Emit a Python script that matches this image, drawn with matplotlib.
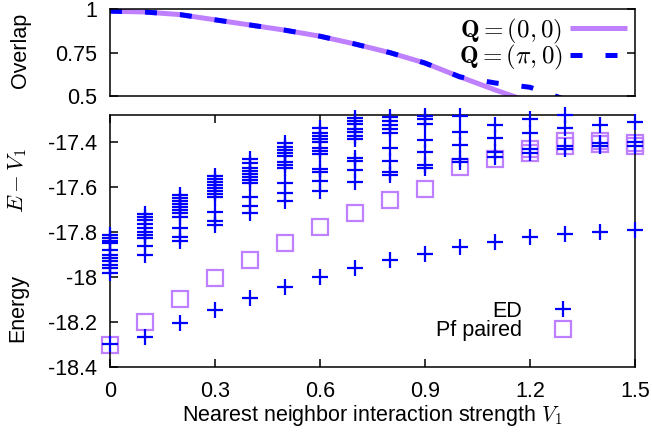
import matplotlib
matplotlib.use("Agg")
import matplotlib.pyplot as plt
from matplotlib.ticker import FixedLocator, FuncFormatter

plt.rcParams["font.family"] = ["Liberation Sans", "DejaVu Sans"]
plt.rcParams["mathtext.fontset"] = "cm"
plt.rcParams["axes.unicode_minus"] = False

LAVENDER = "#bf80ff"
BLUE = "#0000ff"
FS = 15.5

# interaction strength grid
V1 = [0.0, 0.1, 0.2, 0.3, 0.4, 0.5, 0.6, 0.7, 0.8, 0.9, 1.0, 1.1, 1.2, 1.3, 1.4, 1.5]

# overlaps (top panel)
OVERLAP_Q00 = [0.99, 0.985, 0.97, 0.94, 0.91, 0.88, 0.845, 0.80, 0.75, 0.69, 0.61, 0.535, 0.465]
OVERLAP_QPI0 = [0.99, 0.985, 0.97, 0.94, 0.91, 0.88, 0.845, 0.80, 0.75, 0.69, 0.61, 0.575, 0.55, 0.48]

# ED spectrum per V1 (only levels inside the plotted window)
ED_LEVELS = [
	[-18.30, -17.813, -17.827, -17.84, -17.849, -17.88, -17.902, -17.916, -17.929, -17.947, -17.96, -17.982],
	[-18.268, -17.72, -17.733, -17.747, -17.764, -17.782, -17.80, -17.813, -17.827, -17.862, -17.902],
	[-18.204, -17.636, -17.649, -17.662, -17.676, -17.689, -17.702, -17.716, -17.733, -17.782, -17.822, -17.84],
	[-18.147, -17.551, -17.564, -17.578, -17.591, -17.604, -17.618, -17.631, -17.644, -17.711, -17.751, -17.769],
	[-18.092, -17.476, -17.493, -17.516, -17.529, -17.542, -17.556, -17.569, -17.582, -17.644, -17.684, -17.716],
	[-18.043, -17.404, -17.422, -17.436, -17.449, -17.462, -17.489, -17.502, -17.516, -17.582, -17.627, -17.662],
	[-17.999, -17.338, -17.36, -17.373, -17.387, -17.40, -17.427, -17.44, -17.453, -17.52, -17.533, -17.573, -17.618],
	[-17.961, -17.293, -17.307, -17.32, -17.342, -17.356, -17.373, -17.387, -17.471, -17.484, -17.524, -17.578],
	[-17.924, -17.289, -17.307, -17.324, -17.342, -17.36, -17.427, -17.484, -17.533, -17.547],
	[-17.898, -17.284, -17.298, -17.32, -17.391, -17.444, -17.502, -17.516],
	[-17.866, -17.284, -17.356, -17.413, -17.476, -17.489],
	[-17.843, -17.324, -17.382, -17.444, -17.467],
	[-17.824, -17.298, -17.36, -17.431, -17.449],
	[-17.809, -17.282, -17.338, -17.418, -17.431],
	[-17.799, -17.324, -17.404, -17.418],
	[-17.791, -17.311, -17.40, -17.418],
]

# Pfaffian paired states
PF_V1 = [0.0, 0.1, 0.2, 0.3, 0.4, 0.5, 0.6, 0.7, 0.8, 0.9, 1.0, 1.1, 1.2, 1.2, 1.3, 1.3, 1.4, 1.4, 1.5, 1.5]
PF_E = [-18.302, -18.199, -18.099, -18.006, -17.924, -17.85, -17.778, -17.714, -17.658, -17.61,
	-17.513, -17.475, -17.433, -17.45, -17.396, -17.418, -17.394, -17.41, -17.403, -17.416]

X_TICKS = [0, 0.3, 0.6, 0.9, 1.2, 1.5]
OVL_TICKS = [0.5, 0.75, 1.0]
E_TICKS = [-18.4, -18.2, -18.0, -17.8, -17.6, -17.4]


def _fmt(v, _pos=None):
	return f"{v:g}"


fig = plt.figure(figsize=(6.52, 4.34), dpi=100)
ax_top = fig.add_axes([0.1687, 0.779, 0.8052, 0.1993])
ax_bot = fig.add_axes([0.1687, 0.1544, 0.8052, 0.5806])

# top panel
ax_top.plot(V1[:len(OVERLAP_Q00)], OVERLAP_Q00, color=LAVENDER, lw=3.6,
	solid_capstyle="butt", label=r"$\mathbf{Q} = (0,0)$")
ax_top.plot(V1[:len(OVERLAP_QPI0)], OVERLAP_QPI0, color=BLUE, lw=3.6,
	dashes=(2.4, 4.6), dash_capstyle="butt", label=r"$\mathbf{Q} = (\pi,0)$")
ax_top.set_xlim(0, 1.5)
ax_top.set_ylim(0.5, 1.0)
ax_top.yaxis.set_major_locator(FixedLocator(OVL_TICKS))
ax_top.yaxis.set_major_formatter(FuncFormatter(_fmt))
ax_top.tick_params(direction="in", length=5.8, width=1.1, labelsize=FS, pad=9,
	left=True, right=True, bottom=False, top=False, labelbottom=False)
ax_top.legend(loc="upper right", bbox_to_anchor=(1.0, 1.005), frameon=False,
	markerfirst=False, fontsize=18, handlelength=2.3, handletextpad=0.3,
	labelspacing=-0.1, borderaxespad=0.0, borderpad=0.3)

# bottom panel
ed_x = [v for v, levels in zip(V1, ED_LEVELS) for _ in levels]
ed_e = [e for levels in ED_LEVELS for e in levels]
ax_bot.plot(ed_x, ed_e, linestyle="none", marker="+", ms=12, mew=1.6,
	color=BLUE, clip_on=False, label="ED", zorder=3)
ax_bot.plot(PF_V1, PF_E, linestyle="none", marker="s", ms=11, mew=1.6,
	mfc="none", mec=LAVENDER, clip_on=False, label="Pf paired", zorder=2)
ax_bot.set_xlim(0, 1.5)
ax_bot.set_ylim(-18.4, -17.28)
ax_bot.xaxis.set_major_locator(FixedLocator(X_TICKS))
ax_bot.xaxis.set_major_formatter(FuncFormatter(_fmt))
ax_bot.yaxis.set_major_locator(FixedLocator(E_TICKS))
ax_bot.yaxis.set_major_formatter(FuncFormatter(_fmt))
ax_bot.tick_params(direction="in", length=5.8, width=1.1, labelsize=FS,
	top=True, right=False)
ax_bot.tick_params(axis="x", pad=10)
ax_bot.tick_params(axis="y", pad=9)
ax_bot.legend(loc="lower right", bbox_to_anchor=(0.90, 0.067), frameon=False,
	markerfirst=False, fontsize=FS, handlelength=1.0, handletextpad=1.4,
	labelspacing=-0.05, borderaxespad=0.0)

for ax in (ax_top, ax_bot):
	for sp in ax.spines.values():
		sp.set_linewidth(1.1)

ax_bot.set_xlabel(r"Nearest neighbor interaction strength $V_1$", fontsize=FS, labelpad=1)
fig.text(20 / 652, 1 - 50 / 434, "Overlap", rotation=90, ha="center", va="center", fontsize=FS)
fig.text(18 / 652, 1 - 308 / 434, "Energy", rotation=90, ha="center", va="center", fontsize=FS)
fig.text(18 / 652, 1 - 181 / 434, r"$E - V_1$", rotation=90, ha="center", va="center", fontsize=16.5)

fig.savefig("out.png", dpi=100)
